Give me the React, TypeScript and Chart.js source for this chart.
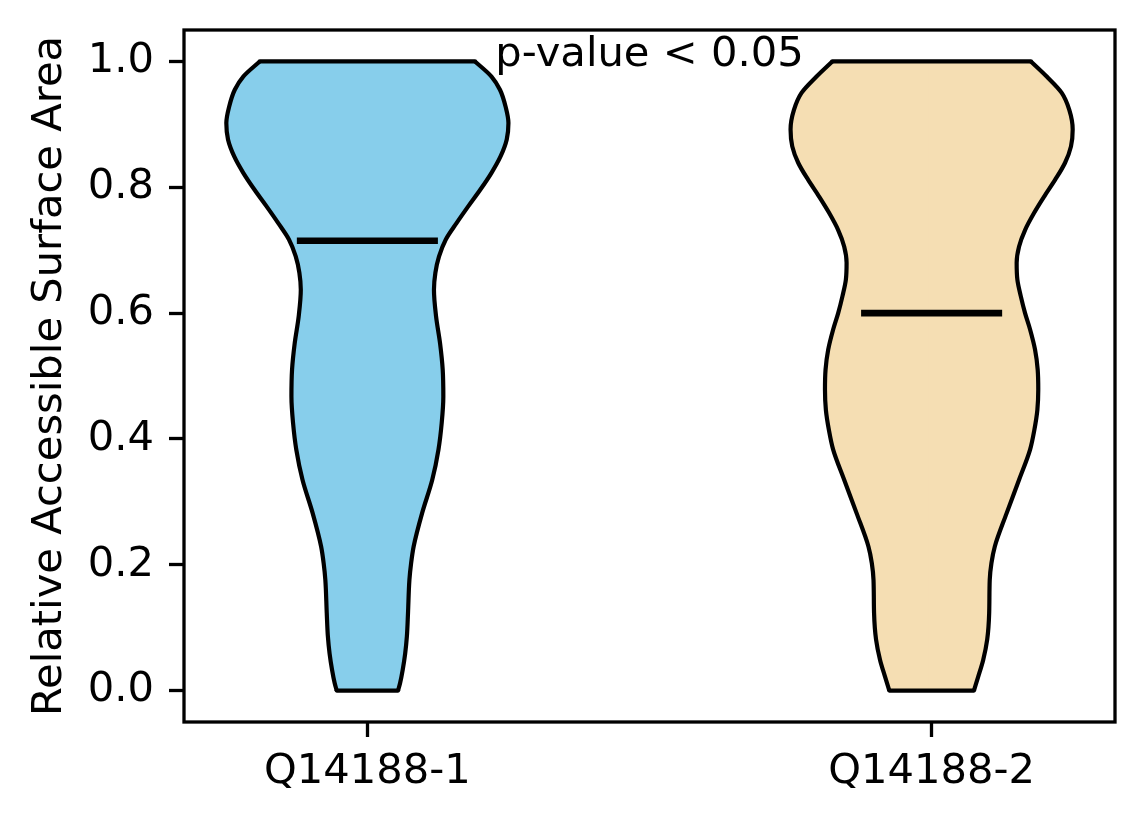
import React, { FC, useEffect, useRef } from "react";
import Chart from "chart.js/auto";

// categories and their x positions
const categories = ["Q14188-1", "Q14188-2"];
const positions = [1, 2];
const fillColors = ["#87CEEB", "#F5DEB3"];

// medians of each group
const medians = [0.715, 0.6];

// violin outlines: density half-widths (x units) read at each y level
const levels1 = [0.0, 0.012, 0.033, 0.059, 0.086, 0.123, 0.176, 0.2025, 0.229, 0.282, 0.335, 0.383, 0.425, 0.467, 0.51, 0.552, 0.595, 0.637, 0.664, 0.69, 0.717, 0.743, 0.77, 0.796, 0.823, 0.849, 0.876, 0.902, 0.928, 0.955, 0.976, 1.0];
const halfWidths1 = [0.0544, 0.058, 0.0626, 0.067, 0.07, 0.072, 0.0745, 0.0775, 0.082, 0.097, 0.115, 0.126, 0.1317, 0.1346, 0.1335, 0.1288, 0.1217, 0.118, 0.1205, 0.127, 0.139, 0.158, 0.179, 0.2, 0.22, 0.236, 0.247, 0.25, 0.245, 0.235, 0.22, 0.1908];

const levels2 = [0.0, 0.022, 0.049, 0.081, 0.123, 0.176, 0.2025, 0.229, 0.282, 0.335, 0.383, 0.414, 0.446, 0.478, 0.51, 0.542, 0.574, 0.6, 0.627, 0.653, 0.68, 0.706, 0.732, 0.759, 0.786, 0.812, 0.839, 0.865, 0.892, 0.923, 0.95, 0.976, 1.0];
const halfWidths2 = [0.075, 0.0826, 0.0915, 0.0985, 0.102, 0.103, 0.106, 0.112, 0.133, 0.155, 0.1745, 0.182, 0.1874, 0.189, 0.188, 0.1833, 0.1745, 0.1656, 0.158, 0.152, 0.1507, 0.155, 0.1656, 0.1815, 0.2, 0.219, 0.2365, 0.247, 0.25, 0.244, 0.2306, 0.204, 0.176];

const yTicks = [0, 0.2, 0.4, 0.6, 0.8, 1.0];
const yLabel = "Relative Accessible Surface Area";
const pValueText = "p-value < 0.05";
const pValueAt = { x: 1.5, y: 0.992 };

const FONT = "'DejaVu Sans', sans-serif";

const App: FC = () => {
  const canvasRef = useRef<HTMLCanvasElement>(null);

  useEffect(() => {
    if (!canvasRef.current) return;
    const ctx = canvasRef.current.getContext("2d");
    if (!ctx) return;

    const violins = [
      { levels: levels1, hw: halfWidths1 },
      { levels: levels2, hw: halfWidths2 },
    ];

    const datasets: any[] = [];
    violins.forEach((v, i) => {
      const pos = positions[i];
      const last = v.levels.length - 1;
      // right and left halves, each filled towards the centre line
      [1, -1].forEach((side) => {
        datasets.push({
          data: v.levels.map((y, k) => ({ x: pos + side * v.hw[k], y })),
          indexAxis: "y",
          fill: { value: pos - side * 0.006 },
          backgroundColor: fillColors[i],
          borderColor: "#000",
          borderWidth: 4.2,
          cubicInterpolationMode: "monotone",
          pointRadius: 0,
          order: 3,
        });
      });
      // flat ends at min and max
      [0, last].forEach((k) => {
        datasets.push({
          data: [
            { x: pos - v.hw[k], y: v.levels[k] },
            { x: pos + v.hw[k], y: v.levels[k] },
          ],
          fill: false,
          borderColor: "#000",
          borderWidth: 4.2,
          borderCapStyle: "round",
          pointRadius: 0,
          order: 2,
        });
      });
      // median bar
      datasets.push({
        data: [
          { x: pos - 0.125, y: medians[i] },
          { x: pos + 0.125, y: medians[i] },
        ],
        fill: false,
        borderColor: "#000",
        borderWidth: 6.7,
        pointRadius: 0,
        order: 1,
      });
    });

    const framePlugin = {
      id: "frame",
      afterDatasetsDraw(chart: any) {
        const { ctx: c, chartArea: a, scales } = chart;
        c.save();
        c.strokeStyle = "#000";
        c.lineWidth = 3.3;
        c.strokeRect(a.left, a.top, a.right - a.left, a.bottom - a.top);
        c.fillStyle = "#000";
        c.font = `41.67px ${FONT}`;
        c.textAlign = "center";
        c.textBaseline = "alphabetic";
        c.fillText(pValueText, scales.x.getPixelForValue(pValueAt.x), scales.y.getPixelForValue(pValueAt.y));
        c.restore();
      },
    };

    const tickFont = { family: FONT, size: 41.67 };
    const grid = {
      display: true,
      drawOnChartArea: false,
      drawTicks: true,
      tickLength: 15,
      tickWidth: 3.3,
      tickColor: "#000",
    };

    const chart = new Chart(ctx, {
      type: "line",
      data: { datasets },
      options: {
        animation: false,
        responsive: true,
        maintainAspectRatio: false,
        layout: { padding: { top: 30, right: 29, left: 0, bottom: 0 } },
        plugins: { legend: { display: false }, tooltip: { enabled: false } },
        scales: {
          x: {
            type: "linear",
            min: 0.675,
            max: 2.325,
            afterBuildTicks: (s: any) => {
              s.ticks = positions.map((value) => ({ value }));
            },
            afterFit: (s: any) => {
              s.height = 102;
            },
            ticks: {
              font: tickFont,
              color: "#000",
              padding: 10,
              maxRotation: 0,
              autoSkip: false,
              callback: (v: any) => categories[positions.indexOf(Number(v))],
            },
            grid,
            border: { display: false },
          },
          y: {
            type: "linear",
            min: -0.05,
            max: 1.05,
            afterBuildTicks: (s: any) => {
              s.ticks = yTicks.map((value) => ({ value }));
            },
            afterFit: (s: any) => {
              s.width = 184;
              s.paddingTop = 0;
              s.paddingBottom = 0;
            },
            ticks: {
              font: tickFont,
              color: "#000",
              padding: 15,
              callback: (v: any) => Number(v).toFixed(1),
            },
            title: {
              display: true,
              text: yLabel,
              font: tickFont,
              color: "#000",
              padding: { top: 25, bottom: 0 },
            },
            grid,
            border: { display: false },
          },
        },
      },
      plugins: [framePlugin],
    });

    return () => {
      chart.destroy();
    };
  }, []);

  return (
    <div style={{ position: "absolute", left: 0, top: 0, width: 1144, height: 824, background: "#fff" }}>
      <canvas ref={canvasRef}></canvas>
    </div>
  );
};

export default App;
